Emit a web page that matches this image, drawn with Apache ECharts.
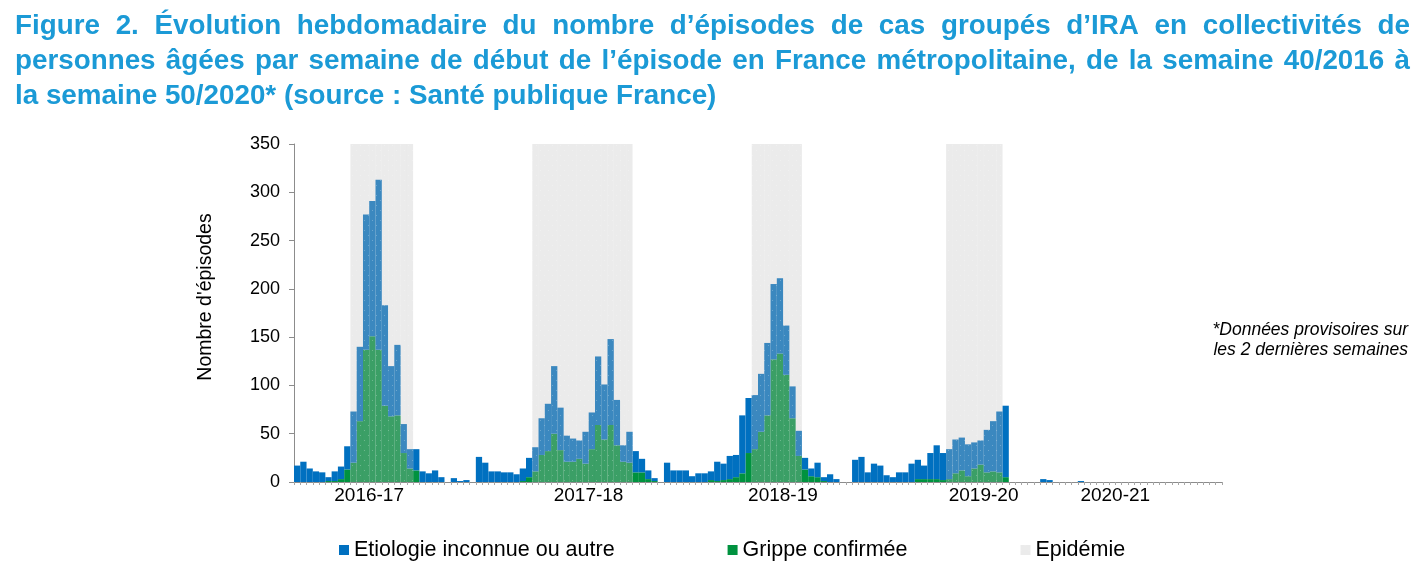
<!DOCTYPE html>
<html>
<head>
<meta charset="utf-8">
<script src="https://cdn.jsdelivr.net/npm/echarts@6/dist/echarts.min.js"></script>
<style>html,body{margin:0;padding:0;background:#fff}#c{width:1423px;height:569px}</style>
</head>
<body>
<div id="c"></div>
<script>
// ---- categories : weeks of each surveillance season ----
const seasonNames = ['2016-17', '2017-18', '2018-19', '2019-20', '2020-21'];
const seasonFirstYear = [2016, 2017, 2018, 2019, 2020];
const seasonWeekList = [
  [40,41,42,43,44,45,46,47,48,49,50,51,52,1,2,3,4,5,6,7,8,9,10,11,12,13,14,15,16],
  [40,41,42,43,44,45,46,47,48,49,50,51,52,1,2,3,4,5,6,7,8,9,10,11,12,13,14,15,16,17],
  [40,41,42,43,44,45,46,47,48,49,50,51,52,1,2,3,4,5,6,7,8,9,10,11,12,13,14,15,16,17],
  [40,41,42,43,44,45,46,47,48,49,50,51,52,1,2,3,4,5,6,7,8,9,10,11,12,13,14,15,16,17],
  [40,41,42,43,44,45,46,47,48,49,50,51,52,53,1,2,3,4,5,6,7,8,9,10,11,12,13,14,15]
];
// tick labels: season name shown under one week of each season
const seasonLabelWeek = ['2016-S51', '2018-S5', '2019-S6', '2020-S8', '2020-S51'];

// ---- series values (number of episodes per week) ----
const grippe = [
  0,0,0,0,0,1,1,3,13,20,63,137,151,137,79,68,69,30,14,12,0,0,0,0,0,0,0,0,0,
  0,0,0,0,0,0,0,1,5,11,28,32,50,33,21,21,24,19,34,59,44,59,38,21,20,10,10,3,1,0,
  0,0,0,0,0,0,0,2,1,2,3,5,9,30,34,52,69,127,133,111,66,27,13,6,5,1,0,0,0,0,
  0,0,0,0,0,0,0,0,0,0,3,3,3,3,2,3,9,12,6,14,18,10,11,10,5,0,0,0,0,0,
  0,0,0,0,0,0,0,0,0,0,0,null,null,null,null,null,null,null,null,null,null,null,null,null,null,null,null,null,null
];
const autre = [
  17,21,14,11,10,4,10,13,24,53,77,140,140,176,104,52,73,30,20,22,11,9,12,5,0,4,1,2,0,
  26,20,11,11,10,10,8,13,20,25,38,49,70,44,27,24,19,33,38,71,57,89,47,17,32,22,14,9,3,0,
  20,12,12,12,6,9,9,9,20,17,24,23,60,57,56,60,75,78,78,51,33,26,12,8,15,4,8,3,0,0,
  23,26,10,19,17,7,5,10,10,19,20,14,27,35,28,31,35,34,33,27,25,44,52,63,74,0,0,0,0,0,
  3,2,0,0,0,0,1,0,0,0,0,null,null,null,null,null,null,null,null,null,null,null,null,null,null,null,null,null,null
];
// epidemic periods (first week, last week)
const epidemicPeriods = [
  ['2016-S49', '2017-S6'],
  ['2017-S49', '2018-S12'],
  ['2019-S2', '2019-S9'],
  ['2020-S3', '2020-S11']
];

const titleLines = [
  'Figure 2. Évolution hebdomadaire du nombre d’épisodes de cas groupés d’IRA en collectivités de',
  'personnes âgées par semaine de début de l’épisode en France métropolitaine, de la semaine 40/2016 à',
  'la semaine 50/2020* (source : Santé publique France)'
];
const noteLines = ['*Données provisoires sur', 'les 2 dernières semaines'];

// ---- build categories ----
const weeks = [];
seasonWeekList.forEach((list, s) => list.forEach(w => {
  weeks.push((w >= 40 ? seasonFirstYear[s] : seasonFirstYear[s] + 1) + '-S' + w);
}));
const labelMap = {};
seasonLabelWeek.forEach((w, i) => { labelMap[w] = seasonNames[i]; });

const YMAX = 350;
const epidemie = weeks.map(() => '-');
epidemicPeriods.forEach(p => {
  const a = weeks.indexOf(p[0]), b = weeks.indexOf(p[1]);
  for (let i = a; i <= b; i++) epidemie[i] = YMAX;
});

const FONT = '"Liberation Sans", Arial, sans-serif';
const titleColor = '#1b9ad6';

function titleGraphics() {
  const ctx = document.createElement('canvas').getContext('2d');
  const font = 'bold 27.8px ' + FONT;
  ctx.font = font;
  const L = 15, R = 1410, ys = [26, 61.5, 96.5];
  const els = [];
  titleLines.forEach((line, i) => {
    const words = line.split(' ');
    const ws = words.map(w => ctx.measureText(w).width);
    const total = ws.reduce((a, b) => a + b, 0);
    const gap = (i < 2) ? (R - L - total) / (words.length - 1) : ctx.measureText(' ').width;
    let x = L;
    words.forEach((w, j) => {
      els.push({ type: 'text', x: x, y: ys[i], silent: true,
        style: { text: w, font: font, fill: titleColor, align: 'left', verticalAlign: 'middle' } });
      x += ws[j] + gap;
    });
  });
  noteLines.forEach((t, i) => {
    els.push({ type: 'text', x: 1408, y: 330 + i * 20, silent: true,
      style: { text: t, font: 'italic 17.5px ' + FONT, fill: '#000', align: 'right', verticalAlign: 'middle' } });
  });
  return els;
}

const chart = echarts.init(document.getElementById('c'));
chart.setOption({
  animation: false,
  backgroundColor: '#fff',
  graphic: titleGraphics(),
  grid: { left: 294, right: 201, top: 144, bottom: 87, containLabel: false },
  legend: {
    left: 334, top: 533, itemWidth: 10, itemHeight: 10, itemGap: 113, icon: 'rect',
    textStyle: { fontSize: 21.5, color: '#000', fontFamily: FONT, lineHeight: 24 },
    data: ['Etiologie inconnue ou autre', 'Grippe confirmée', 'Epidémie']
  },
  xAxis: {
    type: 'category', data: weeks, boundaryGap: true,
    axisLine: { lineStyle: { color: '#8c8c8c', width: 1 } },
    axisTick: { show: true, interval: 0, length: 3, lineStyle: { color: '#a6a6a6' } },
    axisLabel: {
      interval: (idx, val) => labelMap[val] !== undefined,
      formatter: val => labelMap[val] || '',
      fontSize: 19, color: '#000', fontFamily: FONT, margin: 4, padding: [0, 0, 0, 6]
    },
    splitLine: { show: false }
  },
  yAxis: {
    type: 'value', min: 0, max: YMAX, interval: 50,
    name: "Nombre d'épisodes", nameLocation: 'middle', nameGap: 78,
    nameTextStyle: { fontSize: 19.5, color: '#000', fontFamily: FONT, padding: [0, 0, 0, 32] },
    axisLine: { show: true, lineStyle: { color: '#8c8c8c', width: 1 } },
    axisTick: { show: true, length: 5, lineStyle: { color: '#8c8c8c' } },
    axisLabel: { fontSize: 18, color: '#000', fontFamily: FONT, margin: 14 },
    splitLine: { show: false }
  },
  series: [
    { name: 'Grippe confirmée', type: 'bar', stack: 'ep', data: grippe, z: 2,
      barCategoryGap: '0%', barGap: '-100%', itemStyle: { color: '#00923f' } },
    { name: 'Etiologie inconnue ou autre', type: 'bar', stack: 'ep', data: autre, z: 2,
      barCategoryGap: '0%', barGap: '-100%', itemStyle: { color: '#0070c0' } },
    { name: 'Epidémie', type: 'bar', data: epidemie, z: 3,
      barCategoryGap: '0%', barGap: '-100%',
      itemStyle: { color: 'rgba(190,190,190,0.31)',
        decal: { symbol: 'rect', symbolSize: 1, dashArrayX: [[1, 7], [0, 4, 1, 3]], dashArrayY: [1, 4],
          color: 'rgba(255,255,255,0.25)' } } }
  ]
});
</script>
</body>
</html>
